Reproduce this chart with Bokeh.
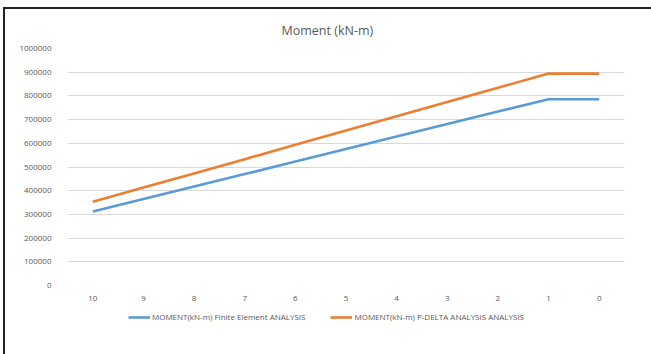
from bokeh.plotting import figure
from bokeh.layouts import column
from bokeh.models import (FactorRange, Range1d, Legend, LegendItem,
                          SingleIntervalTicker, BasicTickFormatter)
from bokeh.embed import file_html
from bokeh.resources import INLINE

# Storey positions along the x axis (top to base)
floors = ["10", "9", "8", "7", "6", "5", "4", "3", "2", "1", "0"]

# Moment (kN-m) from each analysis method
moment_fe = [312000, 365000, 418000, 470000, 523000, 576000,
             629000, 681000, 734000, 786000, 786000]
moment_pdelta = [353000, 413000, 473000, 533000, 594000, 654000,
                 714000, 774000, 834000, 894000, 894000]

series_names = ["MOMENT(kN-m) Finite Element ANALYSIS",
                "MOMENT(kN-m) P-DELTA ANALYSIS ANALYSIS"]

FONT = "Open Sans"
GREY_TEXT = "#595959"
BLUE = "#5b9bd5"
ORANGE = "#ed7d31"

p = figure(x_range=FactorRange(factors=floors, range_padding=0),
           y_range=Range1d(0, 1000000),
           width=646, height=300,
           output_backend="svg", toolbar_location=None,
           min_border_left=62, min_border_right=27,
           min_border_top=38, min_border_bottom=24)

# title centred over the whole chart box rather than the plot frame
p.title.text = "Moment (kN-m)"
p.title.align = "left"
p.title.offset = 214
p.title.standoff = 20
p.title.text_font = FONT
p.title.text_font_size = "12.5px"
p.title.text_font_style = "normal"
p.title.text_color = GREY_TEXT

p.outline_line_color = None
p.background_fill_color = "white"
p.border_fill_color = "white"

# y axis: plain integer ticks every 100000, no axis line
p.yaxis.ticker = SingleIntervalTicker(interval=100000)
p.yaxis.formatter = BasicTickFormatter(use_scientific=False)
p.yaxis.axis_line_color = None
p.yaxis.major_tick_line_color = None
p.yaxis.minor_tick_line_color = None
p.yaxis.major_label_text_font = FONT
p.yaxis.major_label_text_font_size = "8px"
p.yaxis.major_label_text_color = GREY_TEXT
p.yaxis.major_label_standoff = 10

# x axis: category labels only
p.xaxis.axis_line_color = None
p.xaxis.major_tick_line_color = None
p.xaxis.minor_tick_line_color = None
p.xaxis.major_label_text_font = FONT
p.xaxis.major_label_text_font_size = "8px"
p.xaxis.major_label_text_color = GREY_TEXT
p.xaxis.major_label_standoff = 4

p.xgrid.grid_line_color = None
p.ygrid.grid_line_color = "#d9d9d9"
p.ygrid.grid_line_width = 1

p.line(floors, moment_fe, line_color=BLUE, line_width=2.6)
p.line(floors, moment_pdelta, line_color=ORANGE, line_width=2.6)

# legend strip under the chart; its key lines lie outside the visible range
leg = figure(width=646, height=45, x_range=Range1d(0, 1), y_range=Range1d(0, 1),
             x_axis_location=None, y_axis_location=None,
             output_backend="svg", toolbar_location=None,
             min_border=0, outline_line_color=None)
leg.grid.visible = False
k_fe = leg.line([-3, -2], [-3, -3], line_color=BLUE, line_width=2.6)
k_pd = leg.line([-3, -2], [-3, -3], line_color=ORANGE, line_width=2.6)

legend = Legend(items=[LegendItem(label=series_names[0], renderers=[k_fe]),
                       LegendItem(label=series_names[1], renderers=[k_pd])],
                orientation="horizontal", location=(61, 32),
                label_text_font=FONT, label_text_font_size="8px",
                label_text_color=GREY_TEXT,
                glyph_width=22, glyph_height=6,
                label_standoff=2, spacing=25,
                border_line_color=None, background_fill_alpha=0,
                padding=2, margin=0)
leg.add_layout(legend, "center")

layout = column(p, leg, spacing=0)
layout.styles = {"margin-top": "7px", "margin-left": "3px",
                 "border-top": "2px solid #222222",
                 "border-left": "2px solid #222222"}

with open("out.html", "w") as f:
    f.write(file_html(layout, INLINE))
